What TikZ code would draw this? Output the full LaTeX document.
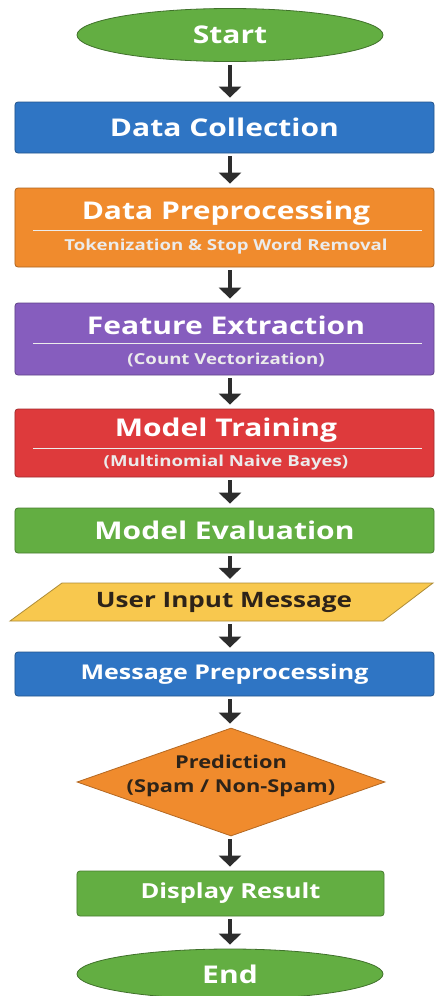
\documentclass[tikz,border=0pt]{standalone}
\usepackage{fontspec}
\setmainfont{Open Sans}[FakeStretch=1.23]
\usetikzlibrary{arrows.meta,shapes.geometric,backgrounds,positioning}

\definecolor{stepgreen}{RGB}{99,174,66}
\definecolor{stepblue}{RGB}{47,117,196}
\definecolor{steporange}{RGB}{240,139,45}
\definecolor{stepviolet}{RGB}{134,93,190}
\definecolor{stepred}{RGB}{222,58,60}
\definecolor{stepyellow}{RGB}{248,200,78}
\definecolor{arrowgray}{RGB}{45,45,45}
\definecolor{darktext}{RGB}{45,35,25}

\newcommand{\headfont}{\fontsize{24.5}{28}\selectfont\bfseries}
\newcommand{\subfont}{\fontsize{15.2}{18}\selectfont\bfseries}

\tikzset{
  box/.style={rectangle, rounded corners=3bp, draw=#1!72!black, fill=#1,
    line width=0.8bp, minimum width=419bp, inner sep=0pt, text=white, font=\headfont},
  terminal/.style={ellipse, draw=stepgreen!65!black, fill=stepgreen, line width=0.8bp,
    minimum width=306bp, inner sep=0pt, text=white, font=\headfont},
  head/.style={text=white, font=\headfont, inner sep=0pt},
  sub/.style={text=white!92!black, font=\subfont, inner sep=0pt},
  sepline/.style={draw=white!85!gray, line width=0.6bp},
  flow/.style={draw=arrowgray, line width=4bp, -{Triangle[width=22bp,length=11bp]},
    shorten <=3bp, shorten >=4bp}
}

\begin{document}
\begin{tikzpicture}[x=1bp,y=-1bp]
    \path[use as bounding box, fill=white] (0,0) rectangle (435,996);

    \node[terminal, minimum height=53bp] (start) at (230,35) {Start};
    \node[box=stepblue, minimum height=51bp] (collect) at (224.5,127.5) {Data Collection};

    % boxes with a heading and a second line
    \node[box=steporange, minimum height=79bp] (prep) at (224.5,227.5) {};
    \node[head] (prephead) at (226,213) {Data Preprocessing};
    \draw[sepline] (33,230) -- (422,230);
    \node[sub] (prepsub) at (226,247) {Tokenization \& Stop Word Removal};

    \node[box=stepviolet, minimum height=72bp] (feat) at (224.5,339) {};
    \node[head] (feathead) at (226,325) {Feature Extraction};
    \draw[sepline] (33,343) -- (422,343);
    \node[sub] (featsub) at (226,359.5) {(Count Vectorization)};

    \node[box=stepred, minimum height=68bp] (train) at (224.5,443) {};
    \node[head] (trainhead) at (226,430) {Model Training};
    \draw[sepline] (33,448) -- (422,448);
    \node[sub] (trainsub) at (226,462.5) {(Multinomial Naive Bayes)};

    \node[box=stepgreen, minimum height=45bp] (eval) at (224.5,530.5) {Model Evaluation};

    % input parallelogram
    \fill[stepyellow, draw=stepyellow!70!black, line width=0.8bp]
        (10,621) -- (62,583) -- (433,583) -- (383,621) -- cycle;
    \node[inner sep=0pt, minimum width=372bp, minimum height=38bp, text=darktext,
          font=\fontsize{21.3}{25}\selectfont\bfseries] (input) at (224,602) {User Input Message};

    \node[box=stepblue, minimum height=44bp, font=\fontsize{20.4}{24}\selectfont\bfseries]
        (clean) at (224.5,674) {Message Preprocessing};

    % decision diamond, its text set on top
    \node[diamond, draw=steporange!75!black, fill=steporange, line width=0.8bp,
          minimum width=308bp, minimum height=108bp, inner sep=0pt] (predict) at (231,782) {};
    \node[align=center, text=darktext, inner sep=0pt,
          font=\fontsize{17.8}{24}\selectfont\bfseries]
        (predicttext) at (231,776) {Prediction\\(Spam / Non-Spam)};

    \node[box=stepgreen, minimum width=307bp, minimum height=45bp,
          font=\fontsize{20.8}{24}\selectfont\bfseries] (show) at (230.5,893.5) {Display Result};
    \node[terminal, minimum height=50bp] (end) at (230,974) {End};

    \foreach \a/\b in {start/collect, collect/prep, prep/feat, feat/train, train/eval,
                       eval/input, input/clean, clean/predict, predict/show, show/end}
        \draw[flow] (start.south |- \a.south) -- (start.south |- \b.north);
\end{tikzpicture}
\end{document}
